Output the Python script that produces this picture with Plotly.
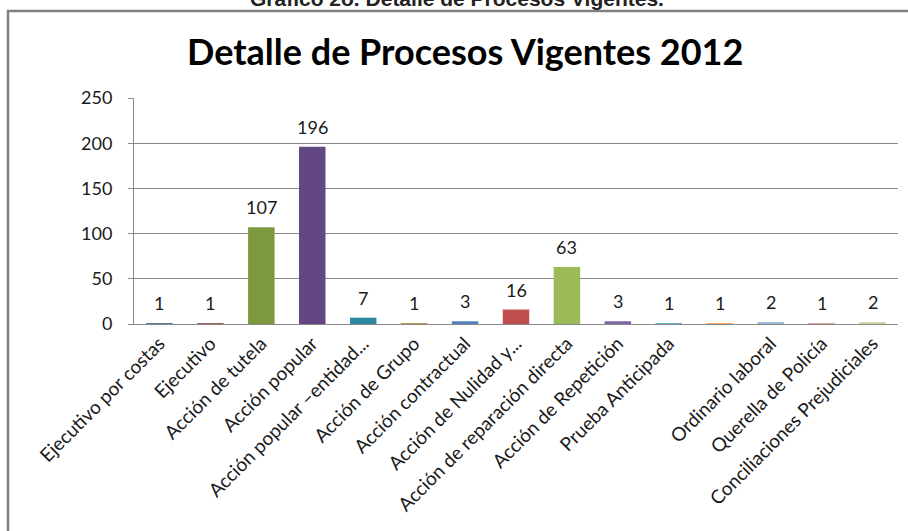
import plotly.graph_objects as go

categories = [
    "Ejecutivo por costas", "Ejecutivo", "Acción de tutela", "Acción popular",
    "Acción popular –entidad...", "Acción de Grupo", "Acción contractual",
    "Acción de Nulidad y...", "Acción de reparación directa", "Acción de Repetición",
    "Prueba Anticipada", "", "Ordinario laboral", "Querella de Policía",
    "Conciliaciones Prejudiciales",
]
values = [1, 1, 107, 196, 7, 1, 3, 16, 63, 3, 1, 1, 2, 1, 2]
bar_colors = [
    "#3E6997", "#8F4B49", "#7D993E", "#634783", "#2F89A3", "#B98A3F",
    "#4F81BD", "#C0504D", "#9BBB59", "#8064A2", "#4BACC6", "#F79646",
    "#95B3D7", "#D99694", "#C3D69B",
]
y_ticks = [0, 50, 100, 150, 200, 250]
chart_title = "Detalle de Procesos Vigentes 2012"
caption = "Gráfico 2o. Detalle de Procesos Vigentes."

W, H = 908, 531
L, R, T, B = 134, 10, 98, 207
PW, PH = W - L - R, H - T - B


def px(xp):
    return (xp - L) / PW


def py(yp):
    return (H - B - yp) / PH


idx = list(range(len(categories)))
FONT = "Lato"

fig = go.Figure(
    go.Bar(
        x=idx,
        y=values,
        marker=dict(color=bar_colors, line=dict(width=0)),
        hoverinfo="skip",
    )
)

for i, v in zip(idx, values):
    fig.add_annotation(
        x=i, y=v, text=str(v), showarrow=False, yanchor="bottom",
        yshift=7, font=dict(family=FONT, size=18, color="#1a1a1a"),
    )

fig.add_annotation(
    xref="paper", yref="paper", x=px(465), y=py(51), text=chart_title,
    showarrow=False, xanchor="center", yanchor="middle",
    font=dict(family=FONT, size=36, color="#000000", weight="bold"),
)
fig.add_annotation(
    xref="paper", yref="paper", x=px(457), y=py(-2), text=caption,
    showarrow=False, xanchor="center", yanchor="middle",
    font=dict(family="Liberation Sans", size=21, color="#222222", weight="bold"),
)

fig.add_shape(
    type="path", xref="paper", yref="paper",
    path=f"M {px(8)} {py(560)} L {px(8)} {py(11)} L {px(930)} {py(11)}",
    line=dict(color="#808080", width=2.5),
)

fig.update_layout(
    width=W, height=H,
    margin=dict(l=L, r=R, t=T, b=B),
    paper_bgcolor="white", plot_bgcolor="white",
    bargap=0.48, showlegend=False,
    font=dict(family=FONT, size=19, color="#1a1a1a"),
)
fig.update_xaxes(
    range=[-0.5, len(categories) - 0.5],
    tickmode="array", tickvals=idx, ticktext=categories, tickangle=-45,
    showgrid=False, showline=True, linecolor="#8a8a8a", linewidth=1,
    ticks="", tickfont=dict(family=FONT, size=19, color="#1a1a1a"),
    zeroline=False,
)
fig.update_yaxes(
    range=[0, 250], tickmode="array", tickvals=y_ticks,
    showgrid=True, gridcolor="#8a8a8a", gridwidth=1,
    showline=True, linecolor="#8a8a8a", linewidth=1,
    ticks="outside", ticklen=5, tickcolor="#8a8a8a",
    ticklabelstandoff=12, zeroline=False,
    tickfont=dict(family=FONT, size=18, color="#1a1a1a"),
)

fig.write_html(
    "out.html",
    config={"displayModeBar": False, "staticPlot": True},
    post_script="document.body.style.margin='0';document.body.style.overflow='hidden';",
)
